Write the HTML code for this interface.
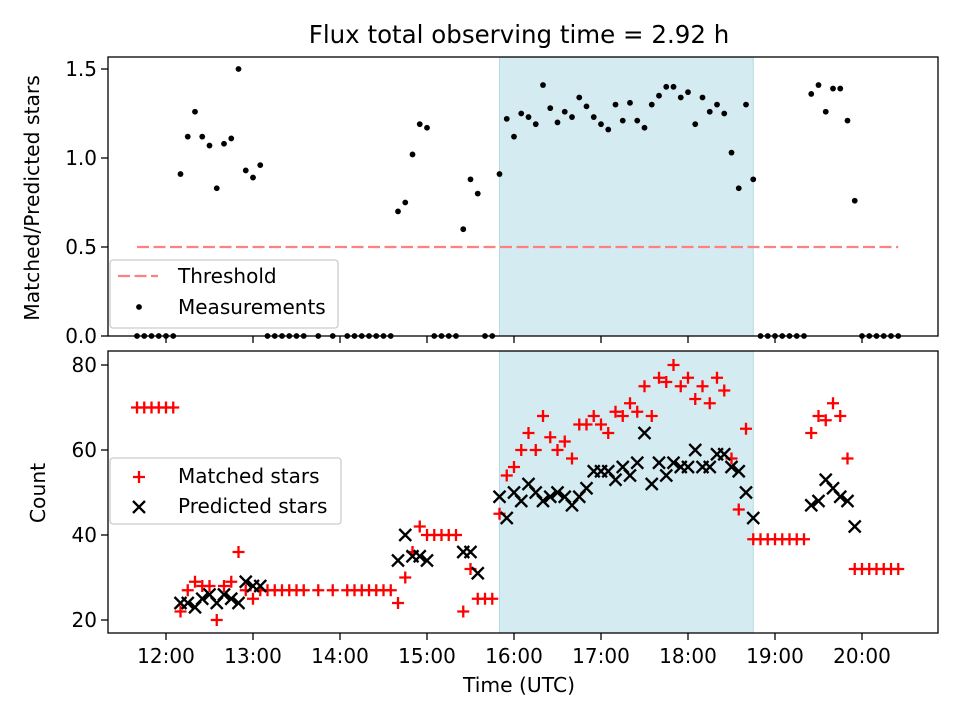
<!DOCTYPE html>
<html><head><meta charset="utf-8"><style>
html,body{margin:0;padding:0;background:#fff;}
svg text{font-family:"DejaVu Sans","Liberation Sans",sans-serif;fill:#000;}
</style></head><body>
<svg id="chart" width="960" height="720" viewBox="0 0 960 720" xmlns="http://www.w3.org/2000/svg">
<rect x="0" y="0" width="960" height="720" fill="#fff"/>
<text x="519" y="43" font-size="24.5" text-anchor="middle">Flux total observing time = 2.92 h</text>
<g id="topPanel"></g>
<g id="botPanel"></g>
<text transform="translate(39,198) rotate(-90)" font-size="20.3" text-anchor="middle">Matched/Predicted stars</text>
<text transform="translate(45,493) rotate(-90)" font-size="20.3" text-anchor="middle">Count</text>
<text x="519" y="692" font-size="20.3" text-anchor="middle">Time (UTC)</text>
</svg>
<script>
const times = ["11:40","11:45","11:50","11:55","12:00","12:05",
"12:10","12:15","12:20","12:25","12:30","12:35","12:40","12:45","12:50","12:55","13:00","13:05",
"13:10","13:15","13:20","13:25","13:30","13:35","13:45","13:55","14:05","14:10","14:15","14:20","14:25","14:30","14:35",
"14:40","14:45","14:50","14:55","15:00",
"15:05","15:10","15:15","15:20",
"15:25","15:30","15:35",
"15:40","15:45",
"15:50","15:55","16:00","16:05","16:10","16:15","16:20","16:25","16:30","16:35","16:40","16:45","16:50","16:55","17:00","17:05","17:10","17:15","17:20","17:25","17:30","17:35","17:40","17:45","17:50","17:55","18:00","18:05","18:10","18:15","18:20","18:25","18:30","18:35","18:40","18:45",
"18:50","18:55","19:00","19:05","19:10","19:15","19:20",
"19:25","19:30","19:35","19:40","19:45","19:50","19:55",
"20:00","20:05","20:10","20:15","20:20","20:25"];
const measurements = [0,0,0,0,0,0,
0.91,1.12,1.26,1.12,1.07,0.83,1.08,1.11,1.50,0.93,0.89,0.96,
0,0,0,0,0,0,0,0,0,0,0,0,0,0,0,
0.70,0.75,1.02,1.19,1.17,
0,0,0,0,
0.60,0.88,0.80,
0,0,
0.91,1.22,1.12,1.25,1.23,1.19,1.41,1.28,1.20,1.26,1.23,1.34,1.29,1.23,1.19,1.16,1.30,1.21,1.31,1.21,1.17,1.30,1.35,1.40,1.40,1.34,1.37,1.19,1.34,1.26,1.30,1.25,1.03,0.83,1.30,0.88,
0,0,0,0,0,0,0,
1.36,1.41,1.26,1.39,1.39,1.21,0.76,
0,0,0,0,0,0];
const matched = [70,70,70,70,70,70,
22,27,29,28,28,20,28,29,36,27,25,27,
27,27,27,27,27,27,27,27,27,27,27,27,27,27,27,
24,30,36,42,40,
40,40,40,40,
22,32,25,
25,25,
45,54,56,60,64,60,68,63,60,62,58,66,66,68,66,64,69,68,71,69,75,68,77,76,80,75,77,72,75,71,77,74,58,46,65,39,
39,39,39,39,39,39,39,
64,68,67,71,68,58,32,
32,32,32,32,32,32];
const predicted = [null,null,null,null,null,null,
24,24,23,25,26,24,26,25,24,29,28,28,
null,null,null,null,null,null,null,null,null,null,null,null,null,null,null,
34,40,35,35,34,
null,null,null,null,
36,36,31,
null,null,
49,44,50,48,52,50,48,49,50,49,47,49,51,55,55,55,53,56,54,57,64,52,57,54,57,56,56,60,56,56,59,59,56,55,50,44,
null,null,null,null,null,null,null,
47,48,53,51,49,48,42,
null,null,null,null,null,null];
const threshold = 0.5;
const thresholdRange = ["11:40","20:25"];
const spanRange = ["15:50","18:45"];
const xTickLabels = ["12:00","13:00","14:00","15:00","16:00","17:00","18:00","19:00","20:00"];
const topYTicks = [0.0,0.5,1.0,1.5];
const botYTicks = [20,40,60,80];

const NS="http://www.w3.org/2000/svg";
function hrs(t){const p=t.split(":");return +p[0]+(+p[1])/60;}
function xS(t){return 166+(hrs(t)-12)*87;}
function yT(v){return 336-v*178;}
function yB(v){return 620-(v-20)*4.25;}
function mk(tag,attrs,parent){const e=document.createElementNS(NS,tag);for(const k in attrs)e.setAttribute(k,attrs[k]);parent.appendChild(e);return e;}

const topG=document.getElementById('topPanel'), botG=document.getElementById('botPanel');
const P={top:{g:topG,y0:57,y1:336},bot:{g:botG,y0:351,y1:633}};
const FS=20;

for(const k of ['top','bot']){
  const p=P[k];
  const r=mk('rect',{x:xS(spanRange[0]),y:p.y0,width:xS(spanRange[1])-xS(spanRange[0]),height:p.y1-p.y0,fill:'#d4ebf1',stroke:'#b3dae6','stroke-width':1},p.g);
  
  
}
const th=mk('line',{x1:xS(thresholdRange[0]),x2:xS(thresholdRange[1]),y1:yT(threshold),y2:yT(threshold),stroke:'#ff8080','stroke-width':2.2,'stroke-dasharray':'12,4.5'},topG);


times.forEach((t,i)=>{
  const c=mk('circle',{cx:xS(t),cy:yT(measurements[i]),r:2.9,fill:'#000'},topG);
  
  
});
function plus(x,y,g){return mk('path',{d:`M${x-6},${y}H${x+6}M${x},${y-6}V${y+6}`,stroke:'#f00','stroke-width':2.3,fill:'none'},g);}
function cross(x,y,g){return mk('path',{d:`M${x-6},${y-6}L${x+6},${y+6}M${x-6},${y+6}L${x+6},${y-6}`,stroke:'#000','stroke-width':2.3,fill:'none'},g);}
times.forEach((t,i)=>{
  const e=plus(xS(t),yB(matched[i]),botG);
  
  
});
times.forEach((t,i)=>{
  if(predicted[i]===null)return;
  const e=cross(xS(t),yB(predicted[i]),botG);
  
  
});
for(const k of ['top','bot']){
  const p=P[k];
  const f=mk('rect',{x:108,y:p.y0,width:830,height:p.y1-p.y0,fill:'none',stroke:'#000','stroke-width':1.3},p.g);
  
  
  xTickLabels.forEach(l=>{
    const x=xS(l);
    const tk=mk('line',{x1:x,x2:x,y1:p.y1,y2:p.y1+7,stroke:'#000','stroke-width':1.3},p.g);
    
    
    if(k==='bot'){
      const tx=mk('text',{x:x,y:p.y1+30,'font-size':FS,'text-anchor':'middle'},p.g);
      tx.textContent=l;
      
      
    }
  });
}
topYTicks.forEach(v=>{
  const y=yT(v);
  const tk=mk('line',{x1:101,x2:108,y1:y,y2:y,stroke:'#000','stroke-width':1.3},topG);
  
  
  const tx=mk('text',{x:97,y:y+7,'font-size':FS,'text-anchor':'end'},topG);
  tx.textContent=v.toFixed(1);
  
  
});
botYTicks.forEach(v=>{
  const y=yB(v);
  const tk=mk('line',{x1:101,x2:108,y1:y,y2:y,stroke:'#000','stroke-width':1.3},botG);
  
  
  const tx=mk('text',{x:97,y:y+7,'font-size':FS,'text-anchor':'end'},botG);
  tx.textContent=String(v);
  
  
});
const lg1=mk('g',{},topG);


mk('rect',{x:110,y:260,width:228,height:68,rx:3,fill:'#fff','fill-opacity':0.8,stroke:'#ccc','stroke-width':1.3},lg1);
mk('line',{x1:118,x2:158,y1:276,y2:276,stroke:'#ff8080','stroke-width':2.2,'stroke-dasharray':'12,4.5'},lg1);
const t1=mk('text',{x:178,y:283,'font-size':FS},lg1);t1.textContent='Threshold';


mk('circle',{cx:139,cy:307,r:2.9,fill:'#000'},lg1);
const t2=mk('text',{x:178,y:314,'font-size':FS},lg1);t2.textContent='Measurements';


const lg2=mk('g',{},botG);


mk('rect',{x:110,y:458,width:231,height:66,rx:3,fill:'#fff','fill-opacity':0.8,stroke:'#ccc','stroke-width':1.3},lg2);
plus(139,477,lg2);
const t3=mk('text',{x:178,y:483,'font-size':FS},lg2);t3.textContent='Matched stars';


cross(139,507,lg2);
const t4=mk('text',{x:178,y:513,'font-size':FS},lg2);t4.textContent='Predicted stars';


</script>
</body></html>
